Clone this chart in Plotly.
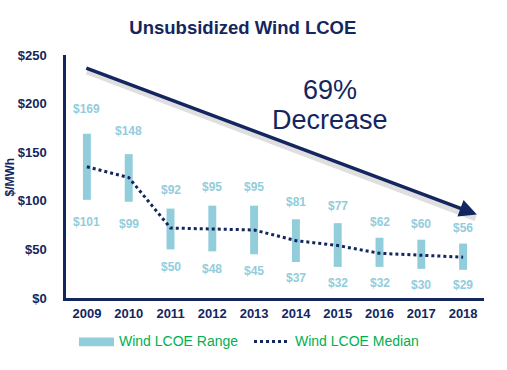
import plotly.graph_objects as go

years = ["2009", "2010", "2011", "2012", "2013", "2014", "2015", "2016", "2017", "2018"]
range_high = [169, 148, 92, 95, 95, 81, 77, 62, 60, 56]
range_low = [101, 99, 50, 48, 45, 37, 32, 32, 30, 29]
median = [135, 124, 72, 71, 70, 59, 54, 46, 44, 42]
y_ticks = [0, 50, 100, 150, 200, 250]

NAVY = "#13265E"
LIGHT = "#92CDDC"
GREEN = "#00B050"
FONT = "Arial, Liberation Sans, sans-serif"

xs = list(range(len(years)))

fig = go.Figure()
fig.add_trace(go.Bar(
    x=xs, y=[h - l for h, l in zip(range_high, range_low)], base=range_low,
    width=0.19, marker=dict(color=LIGHT, line=dict(width=0)),
    name="Wind LCOE Range", showlegend=False, hoverinfo="skip"))
fig.add_trace(go.Scatter(
    x=xs, y=median, mode="lines", line=dict(color=NAVY, width=3, dash="dot"),
    name="Wind LCOE Median", showlegend=False))

ann = []
for i, (h, l) in enumerate(zip(range_high, range_low)):
    ann.append(dict(x=i, y=h, xref="x", yref="y", text=f"<b>${h}</b>", showarrow=False,
                    xanchor="center", yanchor="middle", yshift=11 + 0.08 * h,
                    font=dict(family=FONT, size=12, color=LIGHT)))
    ann.append(dict(x=i, y=l, xref="x", yref="y", text=f"<b>${l}</b>", showarrow=False,
                    xanchor="center", yanchor="middle", yshift=-(13 + 0.09 * l),
                    font=dict(family=FONT, size=12, color=LIGHT)))

# arrow shadow
fig.add_shape(type="line", xref="x", yref="y", x0=0.0, y0=233.0, x1=9.3, y1=82.0,
              line=dict(color="rgba(150,150,150,0.3)", width=6))
# trend arrow
ann.append(dict(x=9.33, y=86, ax=-0.05, ay=237, xref="x", yref="y", axref="x", ayref="y",
                text="", showarrow=True, arrowhead=2, arrowsize=1, arrowwidth=3.5,
                arrowcolor=NAVY))
ann.append(dict(x=0.6316, y=0.856, xref="paper", yref="paper", text="69%", showarrow=False,
                xanchor="center", yanchor="middle",
                font=dict(family=FONT, size=27, color=NAVY)))
ann.append(dict(x=0.6316, y=0.7325, xref="paper", yref="paper", text="Decrease", showarrow=False,
                xanchor="center", yanchor="middle",
                font=dict(family=FONT, size=27, color=NAVY)))
# y-axis title
ann.append(dict(x=-0.134, y=0.5, xref="paper", yref="paper", text="<b>$/MWh</b>", textangle=-90,
                xanchor="center", yanchor="middle",
                showarrow=False, font=dict(family=FONT, size=12, color=NAVY)))
# custom legend
fig.add_shape(type="rect", xref="paper", yref="paper", x0=0.0311, x1=0.1148, y0=-0.199, y1=-0.163,
              fillcolor=LIGHT, line=dict(width=0))
ann.append(dict(x=0.122, y=-0.179, xref="paper", yref="paper", text="Wind LCOE Range",
                xanchor="left", yanchor="middle", showarrow=False,
                font=dict(family=FONT, size=14, color=GREEN)))
fig.add_shape(type="line", xref="paper", yref="paper", x0=0.4498, x1=0.5287, y0=-0.179, y1=-0.179,
              line=dict(color=NAVY, width=3, dash="dot"))
ann.append(dict(x=0.543, y=-0.179, xref="paper", yref="paper", text="Wind LCOE Median",
                xanchor="left", yanchor="middle", showarrow=False,
                font=dict(family=FONT, size=14, color=GREEN)))

fig.update_layout(
    width=507, height=370,
    margin=dict(l=66, r=23, t=55, b=72),
    paper_bgcolor="white", plot_bgcolor="white",
    title=dict(text="<b>Unsubsidized Wind LCOE</b>", x=0.479, xanchor="center",
               y=1 - 28 / 370, yanchor="middle",
               font=dict(family=FONT, size=18.5, color=NAVY)),
    showlegend=False,
    annotations=ann,
    xaxis=dict(range=[-0.5, 9.5], tickvals=xs, ticktext=years, showgrid=False, zeroline=False,
               showline=True, linecolor=NAVY, linewidth=2.5, ticks="", ticklabelstandoff=2,
               tickfont=dict(family=FONT, size=13, color=NAVY, weight="bold")),
    yaxis=dict(range=[0, 250], tickvals=y_ticks, ticktext=[f"${v}" for v in y_ticks],
               showgrid=False, zeroline=False, showline=True, linecolor=NAVY, linewidth=2.5,
               ticks="", ticklabelstandoff=14,
               tickfont=dict(family=FONT, size=13, color=NAVY, weight="bold")),
)

fig.write_html("out.html", config={"displayModeBar": False},
               post_script="document.body.style.margin='0';")
